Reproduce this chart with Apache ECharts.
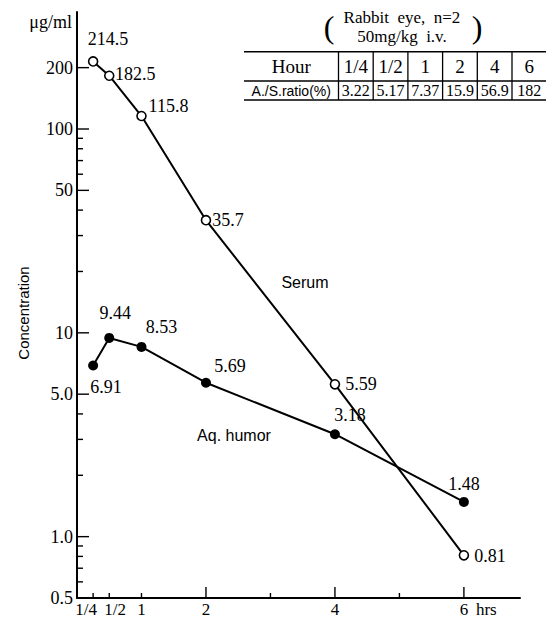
<!DOCTYPE html>
<html><head><meta charset="utf-8">
<script src="https://cdn.jsdelivr.net/npm/echarts@6/dist/echarts.min.js"></script>
<style>html,body{margin:0;padding:0;background:#fff}#c{width:546px;height:619px}</style>
</head><body><div id="c"></div>
<script>
// ---- data ----
const hours = [0.25, 0.5, 1, 2, 4, 6];
const hourLabels = ['1/4', '1/2', '1', '2', '4', '6'];
const serum = [214.5, 182.5, 115.8, 35.7, 5.59, 0.81];
const aqHumor = [6.91, 9.44, 8.53, 5.69, 3.18, 1.48];
const ratioLabels = ['3.22', '5.17', '7.37', '15.9', '56.9', '182'];
const yMajorTicks = [0.5, 1, 5, 10, 50, 100, 200];
const yMajorLabels = ['0.5', '1.0', '5.0', '10', '50', '100', '200'];
const yMinorTicks = [0.6, 0.7, 0.8, 0.9, 2, 3, 4, 20, 30, 40, 60, 70, 80, 90];
const xMajorTicks = [2, 4, 6];
const xMinorTicks = [0.25, 0.5, 1, 3, 5];
const xTickLabels = ['1/4', '1/2', '1', '2', '4', '6'];

// ---- styles ----
const SERIF = '"Liberation Serif", "Times New Roman", serif';
const SANS = '"Liberation Sans", Arial, sans-serif';
const serumLabelOffsets = [[15, -22], [26, -2], [27, -10], [22, 0], [26, 0], [26, 1]];
const aqLabelOffsets = [[13, 21], [6, -25], [20, -20], [24, -17], [15, -19], [0, -18]];
const xLabelShift = [-7, 6, 0, 0, 0, 0];

const chart = echarts.init(document.getElementById('c'), null, {renderer: 'svg'});

function lineSeries(name, vals, offsets, filled) {
  return {
    name, type: 'line', z: filled ? 3 : 4,
    data: hours.map((h, i) => ({
      value: [h, vals[i]],
      label: {show: true, position: 'inside', offset: offsets[i], formatter: String(vals[i])}
    })),
    symbol: 'circle', symbolSize: filled ? 10 : 9,
    itemStyle: filled ? {color: '#000', borderColor: '#000', borderWidth: 0}
                      : {color: '#fff', borderColor: '#000', borderWidth: 1.6},
    lineStyle: {color: '#000', width: 2},
    label: {color: '#000', fontFamily: SERIF, fontSize: 18},
    emphasis: {disabled: true}, animation: false
  };
}

const tableLeft = 244, firstColRight = 338.5, colW = 34.7, tableRight = 546;
const rowY = [51.7, 81, 100];
const tableEls = [];
rowY.forEach(y => tableEls.push({type: 'line', shape: {x1: tableLeft, y1: y, x2: tableRight, y2: y}, style: {stroke: '#000', lineWidth: 1.5}}));
for (let i = 0; i < hourLabels.length; i++) {
  const x = firstColRight + i * colW;
  tableEls.push({type: 'line', shape: {x1: x, y1: rowY[0], x2: x, y2: rowY[2]}, style: {stroke: '#000', lineWidth: 1.3}});
  tableEls.push({type: 'text', style: {text: hourLabels[i], x: x + colW / 2, y: (rowY[0] + rowY[1]) / 2, align: 'center', verticalAlign: 'middle', font: '19px ' + SERIF, fill: '#000'}});
  tableEls.push({type: 'text', style: {text: ratioLabels[i], x: x + colW / 2, y: (rowY[1] + rowY[2]) / 2, align: 'center', verticalAlign: 'middle', font: '16px ' + SERIF, fill: '#000'}});
}
tableEls.push({type: 'text', style: {text: 'Hour', x: (tableLeft + firstColRight) / 2, y: (rowY[0] + rowY[1]) / 2, align: 'center', verticalAlign: 'middle', font: '19px ' + SERIF, fill: '#000'}});
tableEls.push({type: 'text', style: {text: 'A./S.ratio(%)', x: (tableLeft + firstColRight) / 2, y: (rowY[1] + rowY[2]) / 2, align: 'center', verticalAlign: 'middle', font: '14px ' + SANS, fill: '#000'}});
tableEls.push({type: 'text', style: {text: 'Rabbit  eye,  n=2', x: 402, y: 17.5, align: 'center', verticalAlign: 'middle', font: '17px ' + SERIF, fill: '#000'}});
tableEls.push({type: 'text', style: {text: '50mg/kg  i.v.', x: 402, y: 36, align: 'center', verticalAlign: 'middle', font: '17px ' + SERIF, fill: '#000'}});
tableEls.push({type: 'text', style: {text: '(', x: 329, y: 27, align: 'center', verticalAlign: 'middle', font: '32px ' + SERIF, fill: '#000'}});
tableEls.push({type: 'text', style: {text: ')', x: 477, y: 27, align: 'center', verticalAlign: 'middle', font: '32px ' + SERIF, fill: '#000'}});

const option = {
  backgroundColor: '#fff',
  animation: false,
  grid: {left: 77, right: 26, top: 12, bottom: 21, containLabel: false},
  xAxis: {
    type: 'value', min: 0, max: 6.87,
    axisLine: {show: true, lineStyle: {color: '#000', width: 2}},
    axisTick: {show: false}, axisLabel: {show: false}, splitLine: {show: false}
  },
  yAxis: {
    type: 'log', logBase: 10, min: 0.5, max: 375,
    axisLine: {show: true, lineStyle: {color: '#000', width: 2}},
    axisTick: {show: false}, axisLabel: {show: false}, splitLine: {show: false}, minorSplitLine: {show: false}
  },
  graphic: [
    {type: 'text', style: {text: 'μg/ml', x: 72, y: 22, align: 'right', verticalAlign: 'middle', font: '18px ' + SERIF, fill: '#000'}},
    {type: 'text', rotation: Math.PI / 2, x: 23, y: 313, style: {text: 'Concentration', x: 0, y: 0, align: 'center', verticalAlign: 'middle', font: '15px ' + SANS, fill: '#000'}},
    {type: 'text', style: {text: 'Serum', x: 305, y: 282, align: 'center', verticalAlign: 'middle', font: '16px ' + SANS, fill: '#000'}},
    {type: 'text', style: {text: 'Aq. humor', x: 234, y: 435, align: 'center', verticalAlign: 'middle', font: '16px ' + SANS, fill: '#000'}},
    {type: 'group', children: tableEls}
  ],
  series: [
    lineSeries('Aq. humor', aqHumor, aqLabelOffsets, true),
    lineSeries('Serum', serum, serumLabelOffsets, false),
    { // y ticks + labels
      type: 'custom', silent: true, clip: false, animation: false,
      data: yMajorTicks.map((v, i) => [0, v, i, 1]).concat(yMinorTicks.map(v => [0, v, -1, 0])),
      renderItem(params, api) {
        const p = api.coord([0, api.value(1)]);
        const major = api.value(3) === 1;
        const idx = api.value(2);
        const ch = [{type: 'line', shape: {x1: p[0], y1: p[1], x2: p[0] + (major ? 12 : 6), y2: p[1]}, style: {stroke: '#000', lineWidth: 1.4}}];
        if (major) ch.push({type: 'text', style: {text: yMajorLabels[idx], x: p[0] - 4, y: p[1], align: 'right', verticalAlign: 'middle', font: '18px ' + SERIF, fill: '#000'}});
        return {type: 'group', children: ch};
      }
    },
    { // x ticks
      type: 'custom', silent: true, clip: false, animation: false,
      data: xMajorTicks.map(h => [h, 0.5, 1]).concat(xMinorTicks.map(h => [h, 0.5, 0])),
      renderItem(params, api) {
        const p = api.coord([api.value(0), 0.5]);
        const major = api.value(2) === 1;
        return {type: 'line', shape: {x1: p[0], y1: p[1], x2: p[0], y2: p[1] - (major ? 11 : 5)}, style: {stroke: '#000', lineWidth: 1.4}};
      }
    },
    { // x labels
      type: 'custom', silent: true, clip: false, animation: false,
      data: hours.map((h, i) => [h, 0.5, i]),
      renderItem(params, api) {
        const p = api.coord([api.value(0), 0.5]);
        const i = api.value(2);
        const ch = [{type: 'text', style: {text: xTickLabels[i], x: p[0] + xLabelShift[i], y: p[1] + 3, align: 'center', verticalAlign: 'top', font: '17px ' + SERIF, fill: '#000'}}];
        if (i === hours.length - 1) ch.push({type: 'text', style: {text: 'hrs', x: p[0] + 12, y: p[1] + 3, align: 'left', verticalAlign: 'top', font: '17px ' + SERIF, fill: '#000'}});
        return {type: 'group', children: ch};
      }
    }
  ]
};
chart.setOption(option);
</script>
</body></html>
